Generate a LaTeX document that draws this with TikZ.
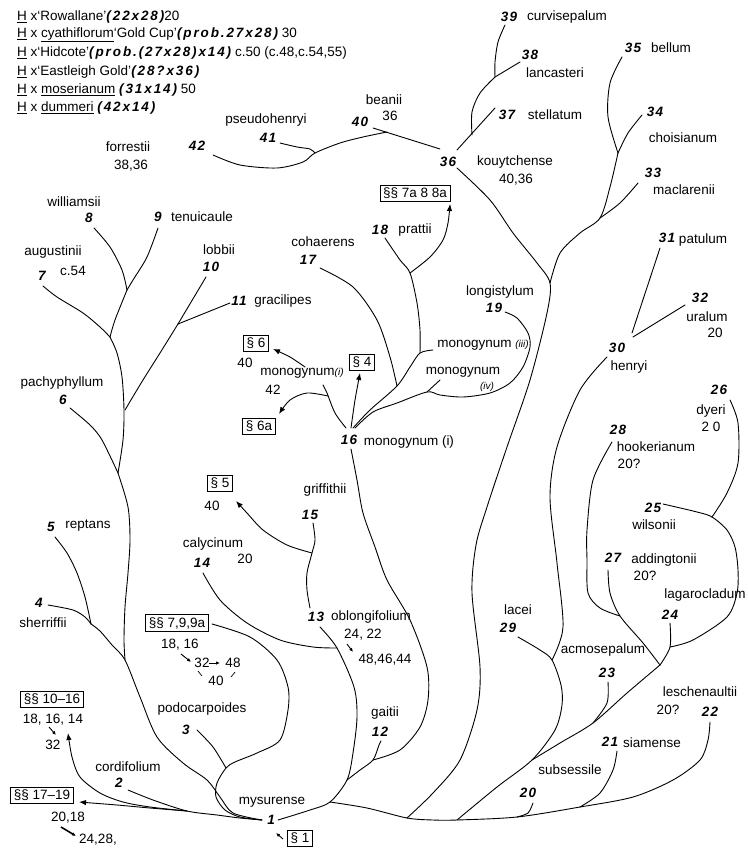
\documentclass[tikz,border=0pt]{standalone}
\usepackage{fontspec}
\setmainfont{Liberation Sans}
\newfontfamily\numfont[LetterSpace=8]{Liberation Sans}
\newfontfamily\legfont[LetterSpace=14]{Liberation Sans}
\newcommand{\bitx}{\numfont\bfseries\itshape}
\newcommand{\bilg}{\legfont\bfseries\itshape}
\newcommand{\smi}[1]{{\fontsize{10}{11}\selectfont\itshape #1}}
\usetikzlibrary{arrows.meta}
\tikzset{
  lab/.style={inner sep=0pt, font=\fontsize{13.5}{15}\selectfont},
  num/.style={inner sep=0pt, font=\fontsize{13.5}{15}\selectfont\bitx},
  br/.style={line width=0.9pt, line cap=round},
  arr/.style={br, -{Latex[length=7pt,width=5.5pt]}},
  sarr/.style={line width=0.9pt, -{Latex[length=4pt,width=3.5pt]}},
  sbox/.style={draw, line width=0.8pt, inner xsep=3pt, inner ysep=2.5pt, font=\fontsize{13.5}{15}\selectfont}
}
\begin{document}
\begin{tikzpicture}[x=1pt,y=-1pt]
\useasboundingbox (0,0) rectangle (748,848);
% ---------- legend ----------
\node[lab,anchor=west] (lg1) at (17,17) {\underline{H} x‘Rowallane’{\bilg(22x28)}20};
\node[lab,anchor=west] (lg2) at (17,35) {\underline{H} x \underline{cyathiflorum}‘Gold Cup’{\bilg(prob.27x28)} 30};
\node[lab,anchor=west] (lg3) at (17,53.5) {\underline{H} x‘Hidcote’{\bilg(prob.(27x28)x14)} c.50 (c.48,c.54,55)};
\node[lab,anchor=west] (lg4) at (17,72) {\underline{H} x‘Eastleigh Gold’{\bilg(28?x36)}};
\node[lab,anchor=west] (lg5) at (17,90) {\underline{H} x \underline{moserianum} {\bilg(31x14)} 50};
\node[lab,anchor=west] (lg6) at (17,108) {\underline{H} x \underline{dummeri} {\bilg(42x14)}};
% ---------- labels, right top ----------
\node[num] (n39) at (509,17) {39}; \node[lab] (t39) at (567,17) {curvisepalum};
\node[num] (n38) at (530,55) {38}; \node[lab] (t38) at (555,73) {lancasteri};
\node[num] (n37) at (507,115) {37}; \node[lab] (t37) at (555,115) {stellatum};
\node[num] (n36) at (448,162) {36}; \node[lab] (t36) at (515,162) {kouytchense};
\node[lab] (c36) at (516,180) {40,36};
\node[lab] (t40) at (384,100) {beanii}; \node[lab] (c40) at (390,116) {36};
\node[num] (n40) at (360,122) {40};
\node[lab] (t41) at (266,120) {pseudohenryi}; \node[num] (n41) at (268,138) {41};
\node[num] (n42) at (197,146) {42}; \node[lab] (t42) at (128,147) {forrestii};
\node[lab] (c42) at (131,166) {38,36};
\node[num] (n35) at (633,48) {35}; \node[lab] (t35) at (671,48) {bellum};
\node[num] (n34) at (655,112) {34}; \node[lab] (t34) at (683,138) {choisianum};
\node[num] (n33) at (653,173) {33}; \node[lab] (t33) at (684,190) {maclarenii};
\node[num] (n31) at (667,238) {31}; \node[lab] (t31) at (703,240) {patulum};
\node[num] (n32) at (700,298) {32}; \node[lab] (t32) at (707,317) {uralum};
\node[lab] (c32) at (715,333) {20};
\node[num] (n30) at (617,348) {30}; \node[lab] (t30) at (629,367) {henryi};
\node[num] (n26) at (719,390) {26}; \node[lab] (t26) at (711,411) {dyeri};
\node[lab] (c26) at (711,427) {2 0};
\node[num] (n28) at (618,430) {28}; \node[lab] (t28) at (656,447) {hookerianum};
\node[lab] (c28) at (629,464) {20?};
\node[num] (n25) at (653,508) {25}; \node[lab] (t25) at (654,525) {wilsonii};
\node[num] (n27) at (613,558) {27}; \node[lab] (t27) at (664,560) {addingtonii};
\node[lab] (c27) at (645,576) {20?};
\node[lab] (t24) at (705,595) {lagarocladum}; \node[num] (n24) at (670,615) {24};
\node[lab] (t29) at (518,610) {lacei}; \node[num] (n29) at (508,628) {29};
\node[lab] (t23) at (603,650) {acmosepalum}; \node[num] (n23) at (607,673) {23};
\node[lab] (t22) at (700,692) {leschenaultii}; \node[lab] (c22) at (668,710) {20?};
\node[num] (n22) at (710,712) {22};
\node[num] (n21) at (610,742) {21}; \node[lab] (t21) at (652,743) {siamense};
\node[lab] (t20) at (570,770) {subsessile}; \node[num] (n20) at (528,793) {20};
% ---------- labels, centre ----------
\node[lab] (t19) at (500,292) {longistylum}; \node[num] (n19) at (494,308) {19};
\node[lab] (t19b) at (483,345) {monogynum \smi{(iii)}};
\node[lab] (t19c) at (463,372) {monogynum};
\node[lab] (t19d) at (487,387) {\smi{(iv)}};
\node[num] (n18) at (380,230) {18}; \node[lab] (t18) at (415,230) {prattii};
\node[sbox] (b7a) at (415,193) {§§ 7a 8 8a};
\node[lab] (t17) at (323,242) {cohaerens}; \node[num] (n17) at (308,260) {17};
\node[num] (n16) at (349,440) {16}; \node[lab] (t16) at (409,442) {monogynum (i)};
\node[lab] (tm1) at (302,373) {monogynum\smi{(i)}}; \node[lab] (cm1) at (273,390) {42};
\node[sbox] (b4) at (362,362) {§ 4};
\node[sbox] (b6) at (256,343) {§ 6}; \node[lab] (c6) at (245,363) {40};
\node[sbox] (b6a) at (259,426) {§ 6a};
\node[lab] (t15) at (325,490) {griffithii}; \node[num] (n15) at (310,515) {15};
\node[sbox] (b5) at (220,483) {§ 5}; \node[lab] (c5) at (212,506) {40};
\node[lab] (t14) at (213,544) {calycinum}; \node[num] (n14) at (202,563) {14};
\node[lab] (c14) at (245,559) {20};
\node[num] (n13) at (316,617) {13}; \node[lab] (t13) at (371,617) {oblongifolium};
\node[lab] (c13) at (363,635) {24, 22}; \node[lab] (c13b) at (385,660) {48,46,44};
\node[lab] (t12) at (385,713) {gaitii}; \node[num] (n12) at (380,732) {12};
\node[lab] (t1) at (272,802) {mysurense}; \node[num] (n1) at (271,820) {1};
\node[sbox] (b1) at (300,838) {§ 1};
% ---------- labels, left ----------
\node[lab] (t2) at (128,767) {cordifolium}; \node[num] (n2) at (119,783) {2};
\node[lab] (t3) at (202,709) {podocarpoides}; \node[num] (n3) at (186,730) {3};
\node[sbox] (b79) at (177,623) {§§ 7,9,9a};
\node[lab] (c79a) at (180,645) {18, 16};
\node[lab] (c79b) at (202,663) {32}; \node[lab] (c79c) at (233,663) {48};
\node[lab] (c79d) at (216,681) {40};
\node[sbox] (b1016) at (52,699) {§§ 10–16};
\node[lab] (c1016a) at (53,720) {18, 16, 14}; \node[lab] (c1016b) at (53,745) {32};
\node[sbox] (b1719) at (42,795) {§§ 17–19};
\node[lab] (c1719a) at (68,818) {20,18}; \node[lab] (c1719b) at (98,840) {24,28,};
\node[num] (n4) at (39,603) {4}; \node[lab] (t4) at (43,623) {sherriffii};
\node[num] (n5) at (51,527) {5}; \node[lab] (t5) at (88,526) {reptans};
\node[lab] (t6) at (62,383) {pachyphyllum}; \node[num] (n6) at (63,400) {6};
\node[lab] (t7) at (53,252) {augustinii}; \node[num] (n7) at (42,276) {7};
\node[lab] (c7) at (73,271) {c.54};
\node[lab] (t8) at (74,202) {williamsii}; \node[num] (n8) at (89,218) {8};
\node[num] (n9) at (158,217) {9}; \node[lab] (t9) at (202,217) {tenuicaule};
\node[lab] (t10) at (219,250) {lobbii}; \node[num] (n10) at (211,267) {10};
\node[num] (n11) at (239,301) {11}; \node[lab] (t11) at (283,301) {gracilipes};
% ---------- junctions ----------
\coordinate (J38) at (495,77);
\coordinate (J40) at (387,132);
\coordinate (J41) at (315,153);
\coordinate (J35) at (618,153);
\coordinate (J33) at (600,218);
\coordinate (J36b) at (550,283);
\coordinate (JB1) at (407,818);
\coordinate (JB2) at (457,820);
\coordinate (Jlac) at (552,660);
\coordinate (JA) at (532,760);
\coordinate (J23) at (593,723);
\coordinate (J24) at (660,665);
\coordinate (J25) at (670,647);
\coordinate (J26) at (712,517);
\coordinate (J28) at (620,616);
\coordinate (J21) at (580,807);
\coordinate (J20) at (517,817);
\coordinate (J13) at (330,802);
\coordinate (J12a) at (347,780);
\coordinate (J12) at (373,760);
\coordinate (J14) at (337,648);
\coordinate (J15) at (312,553);
\coordinate (J17) at (397,386);
\coordinate (J18) at (420,353);
\coordinate (J19) at (427,392);
\coordinate (J89) at (127,290);
\coordinate (J7) at (110,337);
\coordinate (J11) at (178,324);
\coordinate (JM) at (118,473);
\coordinate (J5) at (91,624);
\coordinate (J6) at (125,660);
\coordinate (J3) at (226,768);
\coordinate (JR) at (187,811);
% ---------- branches, top right ----------
\draw[br] plot[smooth] coordinates {(505,25) (498,42) (495,62) (J38)};
\draw[br] (520,62) -- (J38);
\draw[br] plot[smooth] coordinates {(J38) (480,93) (472,112) (472,135)};
\draw[br] (457,150) -- (495,108);
\draw[br] (373,128) -- (440,149);
\draw[br] plot[smooth] coordinates {(213,155) (240,165) (277,168) (303,162) (J41) (340,143) (363,137) (J40)};
\draw[br] plot[smooth] coordinates {(280,143) (297,147) (310,149) (J41)};
\draw[br] plot[smooth] coordinates {(457,168) (490,200) (513,233) (537,263) (J36b) (547,313) (530,380) (507,447) (487,507) (476,545) (472,593) (480,667) (477,710) (460,760) (433,793) (JB1)};
\draw[br] plot[smooth] coordinates {(622,57) (610,83) (608,117) (J35)};
\draw[br] plot[smooth] coordinates {(642,115) (628,133) (J35)};
\draw[br] plot[smooth] coordinates {(J35) (610,187) (J33) (580,233) (560,253) (J36b)};
\draw[br] plot[smooth] coordinates {(638,183) (620,203) (J33)};
\draw[br] (660,248) -- (632,333);
\draw[br] (685,305) -- (633,337);
\draw[br] plot[smooth] coordinates {(607,357) (580,390) (557,447) (550,497) (557,563) (563,627) (Jlac)};
\draw[br] plot[smooth] coordinates {(518,637) (540,650) (Jlac) (561,685) (562,705) (555,730) (JA) (497,787) (JB2)};
\draw[br] plot[smooth] coordinates {(J24) (627,693) (J23) (560,743) (JA)};
\draw[br] plot[smooth] coordinates {(608,682) (607,703) (J23)};
\draw[br] plot[smooth] coordinates {(608,570) (610,593) (J28) (643,643) (J24)};
\draw[br] plot[smooth] coordinates {(612,442) (593,480) (587,530) (587,560) (588,593) (600,608) (J28)};
\draw[br] plot[smooth] coordinates {(670,623) (J25) (J24)};
\draw[br] plot[smooth] coordinates {(663,504) (697,512) (J26) (727,530) (735,547) (738,570) (737,593) (727,617) (693,640) (J25)};
\draw[br] plot[smooth] coordinates {(730,400) (738,423) (738,463) (727,493) (J26)};
\draw[br] plot[smooth] coordinates {(710,722) (708,740) (700,760) (673,780) (633,797) (J21) (J20) (JB2) (433,820) (JB1) (367,808) (J13)};
\draw[br] plot[smooth] coordinates {(617,751) (613,770) (600,793) (J21)};
\draw[br] plot[smooth] coordinates {(533,803) (528,813) (J20)};
% ---------- root and centre ----------
\draw[br] plot[smooth] coordinates {(278,820) (310,810) (J13) (J12a) (353,753) (357,717) (354,687) (J14) (320,627)};
\draw[br] plot[smooth] coordinates {(J12a) (360,770) (J12) (379,745) (381,741)};
\draw[br] plot[smooth] coordinates {(J12) (400,750) (420,727) (428,700) (427,667) (410,620) (387,580) (375,547) (363,513) (357,480) (351,449)};
\draw[br] plot[smooth] coordinates {(313,523) (315,540) (J15) (307,573) (307,590) (310,608)};
\draw[arr] plot[smooth] coordinates {(J15) (287,545) (263,530) (247,513) (236,501)};
\draw[br] plot[smooth] coordinates {(203,573) (220,600) (247,623) (280,640) (313,647) (J14)};
\draw[br] plot[smooth] coordinates {(346,428) (335,413) (327,393) (323,385)};
\draw[arr] plot[smooth] coordinates {(328,396) (307,393) (290,400) (279,414)};
\draw[arr] plot[smooth] coordinates {(305,367) (290,357) (273,349)};
\draw[arr] plot[smooth] coordinates {(351,428) (355,400) (360,373)};
\draw[br] plot[smooth] coordinates {(355,428) (373,412) (397,403) (J19) (440,395) (463,397) (490,393) (510,383) (523,367) (530,347) (528,333) (517,318) (505,312)};
\draw[br] (440,380) -- (J19);
\draw[br] plot[smooth] coordinates {(353,428) (370,410) (J17) (410,367) (J18) (433,350)};
\draw[br] plot[smooth] coordinates {(385,238) (400,260) (410,273) (417,303) (420,330) (J18)};
\draw[br] plot[smooth] coordinates {(320,268) (353,287) (377,320) (390,357) (J17)};
\draw[arr] plot[smooth] coordinates {(410,273) (430,257) (443,240) (448,223) (450,204)};
% ---------- left ----------
\draw[br] plot[smooth] coordinates {(94,228) (110,247) (122,270) (J89)};
\draw[br] plot[smooth] coordinates {(158,228) (147,257) (133,280) (J89)};
\draw[br] plot[smooth] coordinates {(J89) (115,320) (J7)};
\draw[br] plot[smooth] coordinates {(43,286) (57,297) (83,313) (100,327) (J7)};
\draw[br] plot[smooth] coordinates {(J7) (117,353) (122,377) (124,410) (123,440) (JM)};
\draw[br] (206,277) -- (J11);
\draw[br] (230,303) -- (J11);
\draw[br] plot[smooth] coordinates {(J11) (160,353) (143,380) (125,410)};
\draw[br] plot[smooth] coordinates {(70,408) (90,425) (102,440) (JM)};
\draw[br] plot[smooth] coordinates {(JM) (128,507) (130,540) (128,573) (125,607) (124,640) (J6)};
\draw[br] plot[smooth] coordinates {(55,537) (67,553) (77,573) (85,597) (J5)};
\draw[br] plot[smooth] coordinates {(48,605) (73,610) (85,617) (J5)};
\draw[br] plot[smooth] coordinates {(J5) (100,631) (112,645) (J6) (140,697) (157,737) (183,763) (207,780) (220,797) (233,813) (262,820)};
\draw[br] plot[smooth] coordinates {(128,790) (153,800) (JR) (217,815) (240,818) (262,820)};
\draw[arr] plot[smooth] coordinates {(JR) (150,807) (123,802) (100,793) (80,777) (72,757) (68,733)};
\draw[arr] plot[smooth] coordinates {(JR) (150,808) (117,805) (79,802)};
\draw[br] plot[smooth] coordinates {(197,730) (213,747) (J3)};
\draw[br] plot[smooth] coordinates {(212,624) (250,637) (277,660) (288,687) (288,710) (280,740) (257,753) (235,762) (J3) (217,783) (216,797) (225,810) (240,817) (262,820)};
% ---------- small arrows ----------
\draw[sarr] (181,654) -- (191,662);
\draw[sarr] (209,663) -- (220,663);
\draw[line width=0.7pt] (198,671) -- (202,676);
\draw[line width=0.7pt] (235,672) -- (231,677);
\draw[sarr] (49,727) -- (56,735);
\draw[sarr, line width=1.6pt] (61,827) -- (76,836);
\draw[sarr] (347,644) -- (353,652);
\draw[sarr] (283,839) -- (276,833);
\end{tikzpicture}
\end{document}
